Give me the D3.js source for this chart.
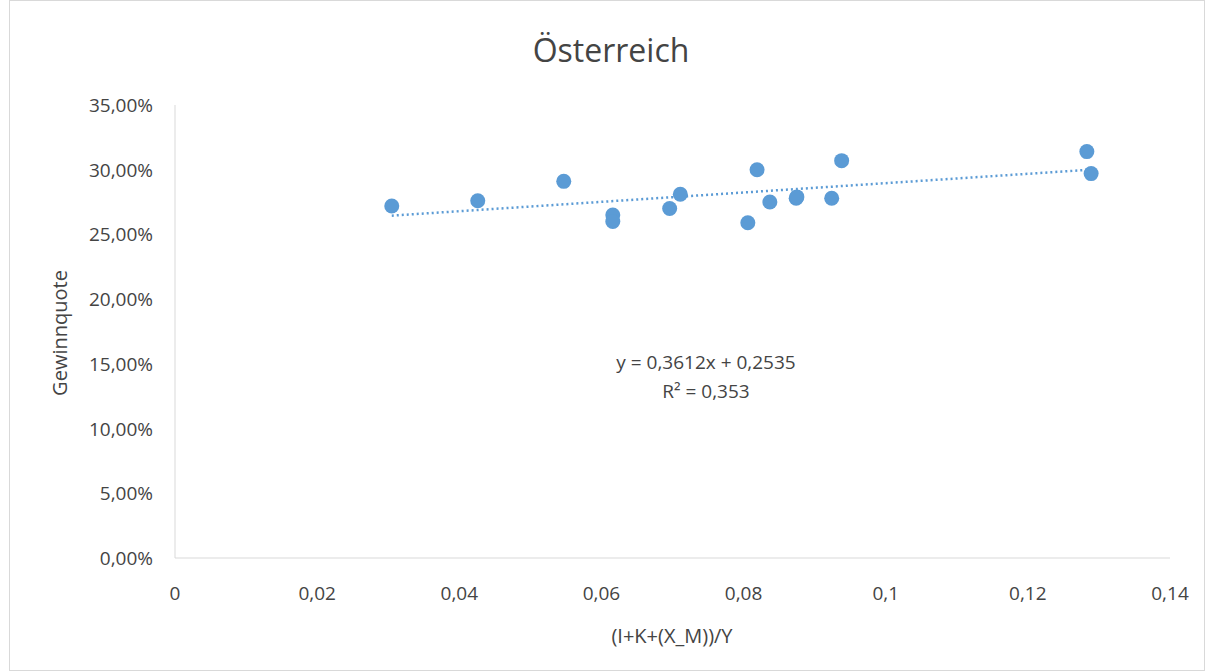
<!DOCTYPE html>
<html lang="de">
<head>
<meta charset="utf-8">
<title>Österreich</title>
<script src="https://d3js.org/d3.v7.min.js"></script>
<style>
  body { margin: 0; background: #fff; }
  text { font-family: "Open Sans", "Noto Sans", sans-serif; fill: #444; }
</style>
</head>
<body>
<script>
// data
var xValues = [0.0305, 0.0426, 0.0547, 0.0616, 0.0616, 0.0696, 0.0711, 0.0806, 0.0819, 0.0837, 0.0874, 0.0875, 0.0924, 0.0938, 0.1283, 0.1289];
var yValues = [0.272, 0.276, 0.291, 0.265, 0.260, 0.270, 0.281, 0.259, 0.300, 0.275, 0.278, 0.279, 0.278, 0.307, 0.314, 0.297];
var xTicks = [0, 0.02, 0.04, 0.06, 0.08, 0.1, 0.12, 0.14];
var yTicks = [0, 0.05, 0.1, 0.15, 0.2, 0.25, 0.3, 0.35];
var slope = 0.3612, intercept = 0.2535;

var w = 1213, h = 672;
var svg = d3.select("body").append("svg").attr("width", w).attr("height", h);

svg.append("rect").attr("x", 9.5).attr("y", 0.5).attr("width", 1195).attr("height", 670)
   .attr("fill", "none").attr("stroke", "#d9d9d9");

var x = d3.scaleLinear().domain([0, 0.14]).range([175, 1170]);
var y = d3.scaleLinear().domain([0, 0.35]).range([558, 105]);

var pct = function(d){ return (d * 100).toFixed(2).replace(".", ",") + "%"; };
var num = function(d){ return d === 0 ? "0" : String(+d.toFixed(2)).replace(".", ","); };

// axes lines
svg.append("line").attr("x1", x(0)).attr("x2", x(0)).attr("y1", y(0.35)).attr("y2", y(0))
   .attr("stroke", "#d9d9d9");
svg.append("line").attr("x1", x(0)).attr("x2", x(0.14)).attr("y1", y(0)).attr("y2", y(0))
   .attr("stroke", "#d9d9d9");

svg.selectAll(".yt").data(yTicks).enter().append("text")
   .attr("x", 153).attr("y", function(d){ return y(d) + 7; })
   .attr("text-anchor", "end").attr("font-size", "19px").text(pct);

svg.selectAll(".xt").data(xTicks).enter().append("text")
   .attr("x", function(d){ return x(d); }).attr("y", 600)
   .attr("text-anchor", "middle").attr("font-size", "19px").text(num);

svg.append("text").attr("x", 611).attr("y", 62).attr("text-anchor", "middle")
   .attr("font-size", "32px").text("Österreich");
svg.append("text").attr("x", 672).attr("y", 643).attr("text-anchor", "middle")
   .attr("font-size", "20px").text("(I+K+(X_M))/Y");
svg.append("text").attr("transform", "translate(67,333) rotate(-90)").attr("text-anchor", "middle")
   .attr("font-size", "20px").text("Gewinnquote");

// trendline
var xs = d3.extent(xValues);
svg.append("line")
   .attr("x1", x(xs[0])).attr("y1", y(slope * xs[0] + intercept))
   .attr("x2", x(xs[1])).attr("y2", y(slope * xs[1] + intercept))
   .attr("stroke", "#5b9bd5").attr("stroke-width", 2.5).attr("stroke-dasharray", "2,3");

svg.selectAll("circle").data(xValues).enter().append("circle")
   .attr("cx", function(d){ return x(d); })
   .attr("cy", function(d, i){ return y(yValues[i]); })
   .attr("r", 7.5).attr("fill", "#5b9bd5");

svg.append("text").attr("x", 706).attr("y", 369).attr("text-anchor", "middle")
   .attr("font-size", "19px").text("y = 0,3612x + 0,2535");
svg.append("text").attr("x", 706).attr("y", 398).attr("text-anchor", "middle")
   .attr("font-size", "19px").text("R² = 0,353");
</script>
</body>
</html>
